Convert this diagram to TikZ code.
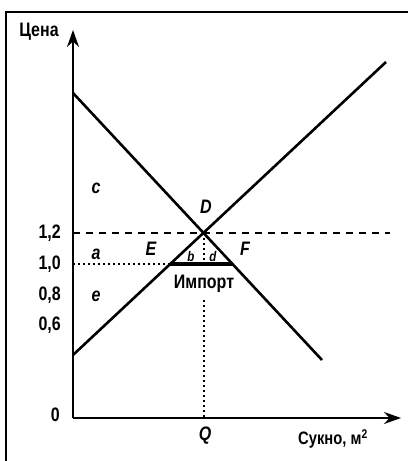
\documentclass[tikz,border=0pt]{standalone}
\usepackage{fontspec}
\setmainfont{Liberation Sans}[FakeStretch=0.82]
\usetikzlibrary{arrows.meta, positioning, calc}

\begin{document}
\begin{tikzpicture}[x=1pt, y=-1pt,
    axis/.style={line width=1.8pt, -{Stealth[length=17pt, width=12pt]}},
    curve/.style={line width=2.6pt},
    lbl/.style={font=\fontsize{19.5}{22}\selectfont\bfseries, inner sep=0pt},
    ital/.style={font=\fontsize{19.5}{22}\selectfont\bfseries\itshape, inner sep=0pt},
    tiny/.style={font=\fontsize{14}{16}\selectfont\bfseries\itshape, inner sep=0pt}]
  \useasboundingbox (0,0) rectangle (411,461);
  % frame
  \draw[line width=1.5pt] (6,461) -- (6,12) -- (408,12);
  % axes
  \coordinate (O) at (73,418);
  \coordinate (ytop) at (73,30);
  \coordinate (xend) at (401,418);
  \draw[axis] (O) -- (ytop);
  \draw[axis] (O) -- (xend);
  % demand and supply
  \coordinate (dA) at (73,93);
  \coordinate (dB) at (322,360);
  \coordinate (sA) at (73,355);
  \coordinate (sB) at (386,62);
  \coordinate (D) at (204,233);
  \coordinate (E1) at (170,264);
  \coordinate (F1) at (233,264);
  \draw[curve] (dA) -- (dB);
  \draw[curve] (sA) -- (sB);
  % price levels
  \coordinate (p12) at (73,233);
  \coordinate (p12end) at (390,233);
  \coordinate (p10) at (73,264);
  \draw[line width=1.1pt, dash pattern=on 7pt off 6pt] (p12) -- (p12end);
  \draw[line width=1.1pt, dash pattern=on 2pt off 3pt] (p10) -- (E1);
  \draw[line width=4pt] (E1) -- (F1);
  % quantity
  \coordinate (Qtop) at (204,300);
  \coordinate (Qax) at (204,418);
  \draw[line width=1.3pt, dash pattern=on 2pt off 3pt] (D) -- (D |- E1);
  \draw[line width=1.3pt, dash pattern=on 2pt off 3pt] (Qtop) -- (Qax);
  % labels
  \node[lbl] (cena) at (39,32) {Цена};
  \node[lbl, anchor=east] (t12) at (61,233) {1,2};
  \node[lbl, anchor=east] (t10) at (61,264) {1,0};
  \node[lbl, anchor=east] (t08) at (61,295) {0,8};
  \node[lbl, anchor=east] (t06) at (61,325) {0,6};
  \node[lbl, anchor=east] (t0) at (60,415) {0};
  \node[ital] (c) at (96,188) {c};
  \node[ital] (a) at (96,254) {a};
  \node[ital] (e) at (96,296) {e};
  \node[ital] (Dl) at (206,207) {D};
  \node[ital] (El) at (151,249) {E};
  \node[ital] (Fl) at (245,249) {F};
  \node[tiny] (b) at (191,256) {b};
  \node[tiny] (d) at (213,256) {d};
  \node[lbl] (imp) at (204,284) {Импорт};
  \node[ital] (Q) at (205,436) {Q};
  \node[lbl, font=\fontsize{18}{20}\selectfont\bfseries] (sukno) at (333,439) {Сукно, м\textsuperscript{2}};
\end{tikzpicture}
\end{document}
